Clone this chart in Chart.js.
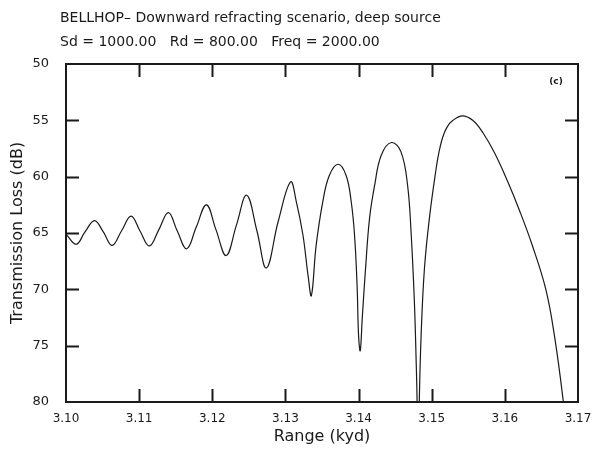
<!DOCTYPE html>
<html>
<head>
<meta charset="utf-8">
<script src="https://cdn.jsdelivr.net/npm/chart.js@4.4.1/dist/chart.umd.min.js"></script>
<style>
  body { margin: 0; background: #fff; }
  #wrap { width: 605px; height: 449px; position: relative; }
</style>
</head>
<body>
<div id="wrap"><canvas id="chart-canvas"></canvas></div>
<script>
// values
const rangeKyd = [
    3.1000, 3.1014, 3.1026, 3.1039, 3.1051, 3.1063, 3.1076, 3.1089, 3.1101, 3.1114,
    3.1127, 3.1140, 3.1152, 3.1165, 3.1178, 3.1192, 3.1205, 3.1219, 3.1233, 3.1247,
    3.1261, 3.1274, 3.1290, 3.1307, 3.1315, 3.1324, 3.1331, 3.13355, 3.1342, 3.1351,
    3.1360, 3.1372, 3.1383, 3.1390, 3.13945, 3.1398, 3.1400, 3.14023, 3.1405, 3.14095,
    3.1415, 3.1422, 3.1431, 3.1445, 3.1458, 3.1467, 3.1472, 3.14763, 3.14787, 3.1480,
    3.1481, 3.1483, 3.14855, 3.1490, 3.14968, 3.1506, 3.1510, 3.1515, 3.1521, 3.1529,
    3.1542, 3.1556, 3.1570, 3.1586, 3.1603, 3.1620, 3.1637, 3.1656, 3.1668, 3.1680, 3.1690
];
const lossDb = [
    65.1, 66.0, 64.9, 63.9, 64.9, 66.1, 64.8, 63.5, 64.8, 66.15,
    64.7, 63.2, 64.8, 66.4, 64.5, 62.5, 64.7, 67.0, 64.3, 61.65,
    64.8, 68.1, 64.0, 60.47, 62.25, 65.2, 68.8, 70.55, 66.1, 62.25,
    59.9, 58.9, 59.9, 62.25, 65.2, 69.7, 74.1, 75.45, 72.6, 68.2,
    63.7, 60.76, 58.1, 56.97, 57.8, 60.76, 65.2, 71.1, 76.3, 80.0,
    88.0, 80.0, 74.1, 68.2, 63.7, 59.3, 57.8, 56.5, 55.6, 55.0,
    54.6, 55.0, 56.1, 57.9, 60.3, 63.0, 66.0, 70.0, 74.2, 80.0, 86.0
];
const titleLines = [
    "BELLHOP\u2013 Downward refracting scenario, deep source",
    "Sd = 1000.00   Rd = 800.00   Freq = 2000.00"
];
const xTitle = "Range (kyd)";
const yTitle = "Transmission Loss (dB)";
const panelTag = "(c)";

const ink = "#1a1a1a";
const fontFamily = "'DejaVu Sans', sans-serif";

// frame, inward ticks and the texts
const decorations = {
    id: "decorations",
    afterDraw(chart) {
        const ctx = chart.ctx;
        const area = chart.chartArea;
        const xs = chart.scales.x;
        const ys = chart.scales.y;
        const tick = 13;
        ctx.save();
        ctx.strokeStyle = ink;
        ctx.lineWidth = 2;
        ctx.strokeRect(area.left, area.top, area.right - area.left, area.bottom - area.top);
        ctx.beginPath();
        xs.ticks.forEach(t => {
            if (t.value <= xs.min + 1e-9 || t.value >= xs.max - 1e-9) return;
            const px = Math.round(xs.getPixelForValue(t.value)) + 0.5;
            ctx.moveTo(px, area.bottom); ctx.lineTo(px, area.bottom - tick);
            ctx.moveTo(px, area.top); ctx.lineTo(px, area.top + tick);
        });
        ys.ticks.forEach(t => {
            if (t.value <= ys.min + 1e-9 || t.value >= ys.max - 1e-9) return;
            const py = Math.round(ys.getPixelForValue(t.value)) + 0.5;
            ctx.moveTo(area.left, py); ctx.lineTo(area.left + tick, py);
            ctx.moveTo(area.right, py); ctx.lineTo(area.right - tick, py);
        });
        ctx.stroke();

        ctx.fillStyle = ink;
        ctx.textBaseline = "middle";
        ctx.textAlign = "left";
        ctx.font = "14px " + fontFamily;
        ctx.fillText(titleLines[0], 60, 18);
        ctx.fillText(titleLines[1], 60, 42);

        ctx.textAlign = "center";
        ctx.font = "16px " + fontFamily;
        ctx.fillText(xTitle, (area.left + area.right) / 2, 437);

        ctx.save();
        ctx.translate(18, (area.top + area.bottom) / 2);
        ctx.rotate(-Math.PI / 2);
        ctx.fillText(yTitle, 0, 0);
        ctx.restore();

        ctx.font = "bold 9px " + fontFamily;
        ctx.fillText(panelTag, 556, 82);
        ctx.restore();
    }
};

document.addEventListener("DOMContentLoaded", function() {
    const chartCanvas = document.getElementById("chart-canvas");

    new Chart(chartCanvas, {
        type: "line",
        data: {
            datasets: [{
                data: rangeKyd.map((r, i) => ({ x: r, y: lossDb[i] })),
                borderColor: ink,
                borderWidth: 1.2,
                pointRadius: 0,
                fill: false,
                tension: 0.4
            }]
        },
        options: {
            responsive: true,
            maintainAspectRatio: false,
            animation: false,
            layout: { padding: { left: 0, right: 27, top: 64, bottom: 0 } },
            plugins: {
                legend: { display: false },
                tooltip: { enabled: false },
                title: { display: false }
            },
            scales: {
                x: {
                    type: "linear",
                    min: 3.10,
                    max: 3.17,
                    grid: { display: false },
                    border: { display: false },
                    ticks: {
                        stepSize: 0.01,
                        color: ink,
                        padding: 2,
                        maxRotation: 0,
                        font: { family: fontFamily, size: 12 },
                        callback: v => v.toFixed(2)
                    },
                    afterFit(scale) { scale.height = 47; }
                },
                y: {
                    min: 50,
                    max: 80,
                    reverse: true,
                    grid: { display: false },
                    border: { display: false },
                    ticks: {
                        stepSize: 5,
                        color: ink,
                        padding: 9,
                        font: { family: fontFamily, size: 13 }
                    },
                    afterFit(scale) { scale.width = 66; }
                }
            }
        },
        plugins: [decorations]
    });
});
</script>
</body>
</html>
